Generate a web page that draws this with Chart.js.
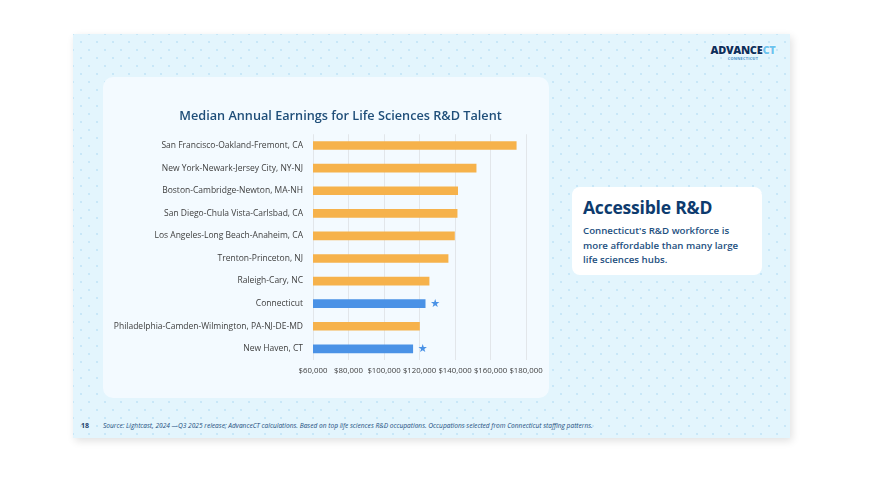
<!DOCTYPE html>
<html>
<head>
<meta charset="utf-8">
<script src="https://cdn.jsdelivr.net/npm/chart.js@4.4.1/dist/chart.umd.min.js"></script>
<style>
  html, body { margin: 0; padding: 0; background: #fff; width: 873px; height: 480px; overflow: hidden; }
  body { position: relative; font-family: "Open Sans", "Noto Sans", sans-serif; }
  .slide {
    position: absolute; left: 73px; top: 34px; width: 717px; height: 404px;
    background-color: #e3f5fd;
    background-image:
      radial-gradient(rgba(140, 200, 235, 0.3) 0.7px, transparent 1.1px),
      radial-gradient(rgba(140, 200, 235, 0.3) 0.7px, transparent 1.1px);
    background-size: 16px 16px, 16px 16px;
    background-position: 0 0, 8px 8px;
    box-shadow: 2px 3px 8px rgba(0, 0, 0, 0.12);
  }
  .card {
    position: absolute; left: 103px; top: 77px; width: 446px; height: 321px;
    background: #f3faff; border-radius: 10px;
  }
  .card canvas { position: absolute; left: 0; top: 0; }
  .callout {
    position: absolute; left: 572px; top: 187px; width: 190px; height: 88px;
    background: #fff; border-radius: 8px; box-sizing: border-box; padding: 9px 11px;
  }
  .callout h2 { margin: 0; font-family: "Open Sans", sans-serif; font-weight: 700; font-size: 17.5px; color: #0d3b6e; line-height: 22px; letter-spacing: -0.2px; }
  .callout p { margin: 6px 0 0; font-family: "Open Sans", sans-serif; font-weight: 600; font-size: 9.7px; color: #1d4f80; line-height: 14.5px; }
  .logo { position: absolute; left: 706px; top: 44px; width: 74px; text-align: center; font-family: "Open Sans", sans-serif; }
  .logo .big { font-size: 11px; font-weight: 800; color: #0d2f5c; letter-spacing: -0.3px; line-height: 12px;
    text-shadow: 0 0 1px #fff, 0 0 1px #fff, 0 0 2px #fff; }
  .logo .big span { color: #6cc3ee; }
  .logo .small { font-size: 3.8px; font-weight: 700; color: #4a8fc8; line-height: 5px; letter-spacing: 0.3px; }
  .pagenum { position: absolute; left: 81px; top: 421px; font-size: 7px; font-weight: 700; color: #1d3f6e; }
  .source { position: absolute; left: 103px; top: 421px; font-size: 6.6px; font-style: italic; color: #1d4f80; white-space: nowrap; }
</style>
</head>
<body>
<div class="slide"></div>
<div class="logo"><div class="big">ADVANCE<span>CT</span></div><div class="small">CONNECTICUT</div></div>
<div class="card"><canvas id="chart" width="474" height="321"></canvas></div>
<div class="callout">
  <h2>Accessible R&amp;D</h2>
  <p>Connecticut's R&amp;D workforce is more affordable than many large life sciences hubs.</p>
</div>
<div class="pagenum">18</div>
<div class="source">Source: Lightcast, 2024 —Q3 2025 release; AdvanceCT calculations. Based on top life sciences R&amp;D occupations. Occupations selected from Connecticut staffing patterns.</div>

<script>
// regions, top to bottom
const regions = [
    "San Francisco-Oakland-Fremont, CA",
    "New York-Newark-Jersey City, NY-NJ",
    "Boston-Cambridge-Newton, MA-NH",
    "San Diego-Chula Vista-Carlsbad, CA",
    "Los Angeles-Long Beach-Anaheim, CA",
    "Trenton-Princeton, NJ",
    "Raleigh-Cary, NC",
    "Connecticut",
    "Philadelphia-Camden-Wilmington, PA-NJ-DE-MD",
    "New Haven, CT",
];
// median annual earnings
const earnings = [174500, 151900, 141500, 141200, 139700, 136100, 125400, 123200, 120000, 116200];
// Connecticut rows get highlighted + a star
const highlighted = ["Connecticut", "New Haven, CT"];
const xTicks = [60000, 80000, 100000, 120000, 140000, 160000, 180000];

const ORANGE = "#f6b24b";
const BLUE = "#4a92e6";

function formatUSD(v) {
    return "$" + v.toLocaleString("en-US");
}

// star after the highlighted bars
const starPlugin = {
    id: "stars",
    afterLayout(chart) {
        // the title sits a bit right of the card centre
        if (chart.titleBlock) {
            chart.titleBlock.left += 25;
            chart.titleBlock.right += 25;
        }
    },
    afterDatasetsDraw(chart) {
        const ctx = chart.ctx;
        const meta = chart.getDatasetMeta(0);
        ctx.save();
        ctx.fillStyle = BLUE;
        ctx.font = "11px 'DejaVu Sans'";
        ctx.textAlign = "left";
        ctx.textBaseline = "middle";
        meta.data.forEach((bar, i) => {
            if (highlighted.includes(regions[i])) {
                ctx.fillText("★", bar.x + 5, bar.y);
            }
        });
        ctx.restore();
    },
};

const ctx = document.getElementById("chart").getContext("2d");
new Chart(ctx, {
    type: "bar",
    data: {
        labels: regions,
        datasets: [{
            data: earnings,
            backgroundColor: regions.map(r => highlighted.includes(r) ? BLUE : ORANGE),
            barThickness: 8,
        }],
    },
    options: {
        indexAxis: "y",
        responsive: false,
        animation: false,
        layout: { padding: { left: 2, right: 51, top: 0, bottom: 16.5 } },
        plugins: {
            legend: { display: false },
            tooltip: { enabled: false },
            title: {
                display: true,
                text: "Median Annual Earnings for Life Sciences R&D Talent",
                color: "#1f4e79",
                font: { family: "Open Sans", size: 12.7, weight: "600" },
                padding: { top: 32, bottom: 10 },
            },
        },
        scales: {
            x: {
                min: 60000,
                max: 180000,
                afterBuildTicks: (scale) => { scale.ticks = xTicks.map(v => ({ value: v })); },
                ticks: {
                    color: "#404040",
                    font: { family: "Open Sans", size: 7.8 },
                    maxRotation: 0,
                    autoSkip: false,
                    padding: 6,
                    callback: (v) => formatUSD(v),
                },
                grid: { color: "#e2e6ea", drawTicks: false },
                border: { display: false },
            },
            y: {
                afterFit: (scale) => { scale.width = 208; },
                ticks: {
                    color: "#404040",
                    font: { family: "Open Sans", size: 8.5 },
                    padding: 10,
                },
                grid: { display: false, drawTicks: false },
                border: { display: false },
            },
        },
    },
    plugins: [starPlugin],
});
</script>
</body>
</html>
